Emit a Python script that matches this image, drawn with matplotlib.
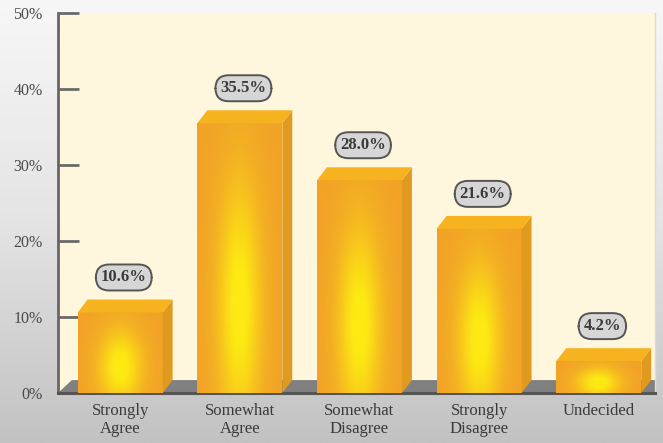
import numpy as np
import matplotlib.pyplot as plt
from matplotlib.colors import LinearSegmentedColormap, to_rgb
from matplotlib.patches import Polygon

plt.rcParams['font.family'] = ['Liberation Serif', 'DejaVu Serif']

# 数据
categories = ['Strongly\nAgree', 'Somewhat\nAgree', 'Somewhat\nDisagree',
              'Strongly\nDisagree', 'Undecided']
values = [10.6, 35.5, 28.0, 21.6, 4.2]
yticks = [0, 10, 20, 30, 40, 50]

W, H = 663, 443
fig = plt.figure(figsize=(W / 100, H / 100), dpi=100)

# 灰色渐变背景
bg = fig.add_axes([0, 0, 1, 1], zorder=-10)
grad = np.linspace(0, 1, 256).reshape(-1, 1)
bg.imshow(grad, aspect='auto', origin='upper', extent=[0, 1, 0, 1],
          cmap=LinearSegmentedColormap.from_list('g', ['#f7f7f7', '#e4e4e4', '#c2c2c2']))
bg.axis('off')

ax = fig.add_axes([58 / W, 50 / H, 597 / W, 380 / H])
ax.set_facecolor('#fef6dd')

xmin, xmax = -0.52, 4.47
bw, dx, dy = 0.71, 0.083, 1.7

# 地板
ax.add_patch(Polygon([(xmin, 0), (xmin + dx * 1.4, dy), (xmax, dy), (xmax, 0)],
                     closed=True, fc='#808080', ec='none', zorder=2))

# 正面渐变
orange = np.array(to_rgb('#f2a327'))
yellow = np.array(to_rgb('#fdea12'))
ny, nx = 120, 80
u = np.linspace(-1, 1, nx)[None, :]
v = np.linspace(0, 1, ny)[:, None]

for i, val in enumerate(values):
    x0, x1 = i - bw / 2, i + bw / 2
    wgt = np.exp(-(u / 0.5) ** 2) * np.exp(-((v - 0.32) / 0.45) ** 2)
    wgt = np.clip(wgt * 1.1, 0, 1)
    img = orange[None, None, :] * (1 - wgt[..., None]) + yellow[None, None, :] * wgt[..., None]
    ax.imshow(img, extent=[x0, x1, 0, val], origin='lower', aspect='auto',
              interpolation='bicubic', zorder=3)
    # 侧面
    ax.add_patch(Polygon([(x1, 0), (x1 + dx, dy), (x1 + dx, val + dy), (x1, val)],
                         closed=True, fc='#e09a1f', ec='none', zorder=3))
    # 顶面
    ax.add_patch(Polygon([(x0, val), (x0 + dx, val + dy), (x1 + dx, val + dy), (x1, val)],
                         closed=True, fc='#f6b21f', ec='none', zorder=3))
    # 数值标签
    ax.text(i + 0.03, val + dy + 2.9, f'{val:.1f}%', ha='center', va='center',
            fontsize=12, fontweight='bold', color='#3a3a3a', zorder=5,
            bbox=dict(boxstyle='round,pad=0.3,rounding_size=0.8',
                      fc='#d6d6d6', ec='#555555', lw=1.4))

ax.set_xlim(xmin, xmax)
ax.set_ylim(0, 50)
ax.set_yticks(yticks)
ax.set_yticklabels([f'{t}%' for t in yticks])
ax.set_xticks(range(len(categories)))
ax.set_xticklabels(categories, linespacing=1.15)

ax.tick_params(axis='y', direction='in', length=15, width=2, color='#6a6a6a',
               labelsize=11.5, labelcolor='#4a4a4a', pad=11)
ax.tick_params(axis='x', length=0, labelsize=12, labelcolor='#3a3a3a', pad=7)

ax.spines['top'].set_visible(False)
ax.spines['right'].set_color('#e2dcc6')
ax.spines['right'].set_linewidth(1)
ax.spines['left'].set_color('#666666')
ax.spines['left'].set_linewidth(2)
ax.spines['bottom'].set_color('#555555')
ax.spines['bottom'].set_linewidth(2.2)

plt.savefig('out.png', dpi=100)
